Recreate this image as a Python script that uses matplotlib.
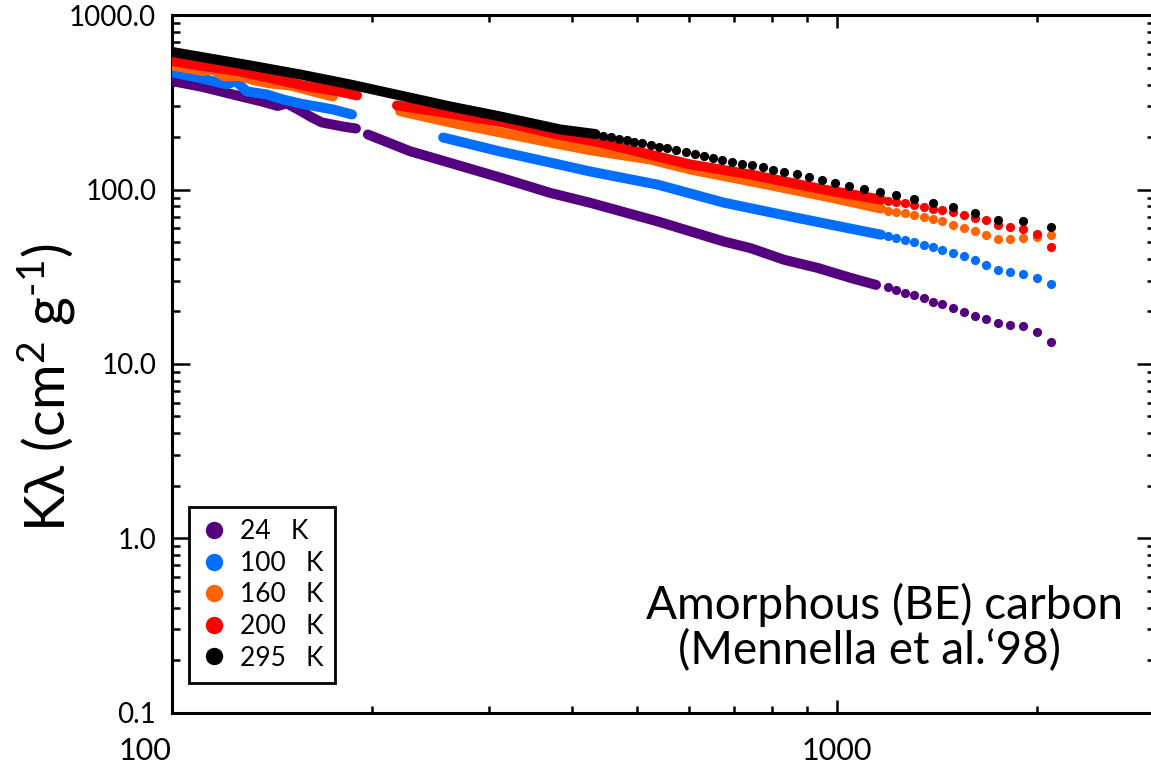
import matplotlib.pyplot as plt
from matplotlib.lines import Line2D
from matplotlib.ticker import FixedLocator, LogLocator, NullFormatter, FuncFormatter

plt.rcParams['font.family'] = ['Lato', 'DejaVu Sans']
plt.rcParams['mathtext.fontset'] = 'custom'
plt.rcParams['mathtext.rm'] = 'Lato'
plt.rcParams['mathtext.it'] = 'Lato:italic'

# mass absorption coefficient kappa (cm^2/g) against wavelength (micron)
# dense parts of each spectrum are drawn as a thick band, sparse ends as dots

# 24 K
wl_24_a = [100, 111.3, 125.3, 136.6, 144.4, 149.0, 155.9, 162.5, 168.3, 180.9, 189.3]
k_24_a = [420.2, 388.2, 347.0, 320.4, 301.9, 312.0, 284.5, 259.4, 242.7, 230.1, 224.1]
wl_24_b = [197.3, 228.3, 262.3, 311.9, 370.9, 426.2, 537.7, 675.7, 742.0, 832.2, 936.3, 1049.7, 1144.6]
k_24_b = [207.1, 166.0, 142.3, 117.2, 95.7, 83.9, 65.7, 50.4, 46.1, 39.6, 35.5, 31.1, 28.4]

# 100 K
wl_100_a = [100, 110.2, 121.0, 124.9, 129.7, 139.0, 146.9, 155.9, 174.8, 186.7]
k_100_a = [470.4, 437.1, 401.3, 420.2, 365.8, 351.6, 329.1, 312.0, 288.3, 269.8]
wl_100_b = [256.0, 311.9, 370.9, 426.2, 537.7, 675.7, 852.6, 979.4, 1165]
k_100_b = [199.0, 165.4, 142.9, 126.9, 106.8, 84.2, 70.0, 62.9, 55.1]

# 160 K
wl_160_a = [100, 111.3, 115.3, 120.2, 126.6, 133.4, 140.5, 150.6, 155.9, 164.2, 174.8]
k_160_a = [516.1, 479.8, 489.4, 445.9, 448.9, 423.0, 406.7, 396.0, 383.1, 363.4, 342.3]
wl_160_b = [220.5, 262.3, 370.9, 426.2, 524.8, 602.7, 742.0, 979.4, 1165]
k_160_b = [281.8, 242.7, 186.3, 168.2, 148.7, 130.3, 111.6, 90.0, 77.8]

# 200 K
wl_200_a = [100, 111.3, 125.3, 140.5, 157.5, 177.2, 190.0]
k_200_a = [547.6, 511.3, 479.8, 437.1, 396.0, 367.2, 347.0]
wl_200_b = [218.2, 250.6, 315.1, 380.0, 441.0, 602.7, 742.0, 955.9, 1165]
k_200_b = [303.9, 280.7, 242.7, 207.1, 186.3, 139.2, 122.0, 100.0, 87.6]

# long-wavelength points shared by the 24, 100, 160 and 200 K spectra
wl_dots = [1192, 1227.5, 1266.3, 1307.5, 1349, 1393.5, 1439, 1494, 1551.6,
           1610, 1674.6, 1743, 1817.4, 1904, 1999.2, 2095]
k_24_dots = [27.6, 26.6, 25.5, 24.7, 23.9, 22.8, 22.0, 20.9, 19.8, 18.9,
             18.1, 17.1, 16.8, 16.4, 15.3, 13.4]
k_100_dots = [53.9, 52.8, 51.6, 49.8, 48.3, 46.6, 44.8, 43.0, 41.4, 39.2,
              36.9, 34.7, 33.6, 32.8, 31.1, 28.8]
k_160_dots = [75.7, 74.7, 73.5, 71.5, 70.0, 67.9, 65.9, 62.9, 60.1, 57.6,
              54.8, 52.2, 52.2, 52.8, 53.5, 54.9]
k_200_dots = [85.7, 84.5, 83.9, 81.7, 79.6, 77.5, 76.0, 74.0, 71.5, 68.8,
              66.6, 62.9, 61.3, 59.7, 55.5, 46.8]

# 295 K
wl_295_band = [100, 131.1, 155.9, 185.4, 220.5, 262.3, 311.9, 384.0, 433.6]
k_295_band = [617, 516.1, 458.0, 401.3, 347.0, 299.9, 262.8, 221.3, 208.4]
wl_295_dots = [433.6, 445.5, 456.9, 470.0, 482.8, 495.2, 509.9, 524.8, 540.0,
               554.6, 572.2, 592.4, 611.2, 631.2, 651.3, 672.9, 695.0, 718.7,
               746.5, 773, 802, 833, 869.6, 906.6, 948, 994, 1043.5, 1099.5,
               1159.7, 1228.6, 1306, 1393.5, 1494, 1610, 1743, 1904, 2095]
k_295_dots = [208.4, 204.3, 200.3, 196.4, 192.5, 188.7, 185.0, 181.4, 176.7,
              173.2, 168.7, 164.3, 160.0, 155.8, 151.7, 147.7, 144.8, 141.0,
              137.9, 135.0, 130.3, 126.4, 122.4, 118.8, 114.2, 109.7, 105.4,
              101.3, 96.5, 92.7, 88.0, 83.9, 79.1, 73.8, 67.0, 66.1, 61.0]

labels = ['24   K', '100   K', '160   K', '200   K', '295   K']
colors = ['#55007F', '#006EFF', '#FF6400', '#FF0000', '#000000']

series = [
    ([(wl_24_a, k_24_a), (wl_24_b, k_24_b)], (wl_dots, k_24_dots)),
    ([(wl_100_a, k_100_a), (wl_100_b, k_100_b)], (wl_dots, k_100_dots)),
    ([(wl_160_a, k_160_a), (wl_160_b, k_160_b)], (wl_dots, k_160_dots)),
    ([(wl_200_a, k_200_a), (wl_200_b, k_200_b)], (wl_dots, k_200_dots)),
    ([(wl_295_band, k_295_band)], (wl_295_dots, k_295_dots)),
]

fig = plt.figure(figsize=(11.51, 7.71), dpi=100)
ax = fig.add_axes([171.5 / 1151, 58.5 / 771, 983 / 1151, 697.2 / 771])

for i, (bands, dots) in enumerate(series):
    z = 3 + 0.1 * i
    for wl, k in bands:
        ax.plot(wl, k, color=colors[i], lw=7.2, solid_capstyle='round',
                solid_joinstyle='round', zorder=z)
    ax.plot(dots[0], dots[1], 'o', color=colors[i], ms=6.6, mew=0, zorder=z)

ax.set_xscale('log')
ax.set_yscale('log')
ax.set_xlim(100, 3000)
ax.set_ylim(0.1, 1000)

ax.xaxis.set_major_locator(FixedLocator([100, 1000]))
ax.xaxis.set_minor_locator(FixedLocator([200, 300, 400, 500, 600, 700, 800, 900, 2000]))
ax.xaxis.set_major_formatter(FuncFormatter(lambda v, p: '%d' % v))
ax.xaxis.set_minor_formatter(NullFormatter())
ax.yaxis.set_major_locator(LogLocator(base=10, numticks=10))
ax.yaxis.set_minor_locator(LogLocator(base=10, subs=range(2, 10), numticks=10))
ax.yaxis.set_major_formatter(FuncFormatter(lambda v, p: '%.1f' % v))
ax.yaxis.set_minor_formatter(NullFormatter())

ax.tick_params(which='both', direction='in', top=True, right=True, width=1.8, color='black')
ax.tick_params(axis='y', which='major', length=13, pad=11, labelsize=20)
ax.tick_params(axis='y', which='minor', length=6)
ax.tick_params(axis='x', which='major', length=9.7, pad=18, labelsize=22)
ax.tick_params(axis='x', which='minor', length=5)
for s in ax.spines.values():
    s.set_linewidth(2.2)

fig.canvas.draw()
# keep the first x label clear of the y axis
ax.xaxis.get_major_ticks()[0].label1.set_horizontalalignment('right')

fig.text(47 / 1151, 1 - 388 / 771, 'K\u03bb (cm$^{2}$ g$^{\\text{-}1}$)', rotation=90,
         ha='center', va='center', fontsize=40)

ax.text(0.725, 0.155, 'Amorphous (BE) carbon', transform=ax.transAxes,
        ha='center', va='center', fontsize=33)
ax.text(0.710, 0.088, '(Mennella et al.\u201898)', transform=ax.transAxes,
        ha='center', va='center', fontsize=33)

handles = [Line2D([], [], ls='none', marker='o', ms=12.5, mew=0, color=c) for c in colors]
leg = ax.legend(handles, labels, loc='lower left', bbox_to_anchor=(0.0174, 0.043),
                frameon=True, fancybox=False, edgecolor='black', framealpha=1,
                fontsize=19, handlelength=1.0, handletextpad=0.5, labelspacing=0.25,
                borderpad=0.45, borderaxespad=0)
leg.get_frame().set_linewidth(2)
leg.set_zorder(10)

plt.savefig('out.png', dpi=100)
